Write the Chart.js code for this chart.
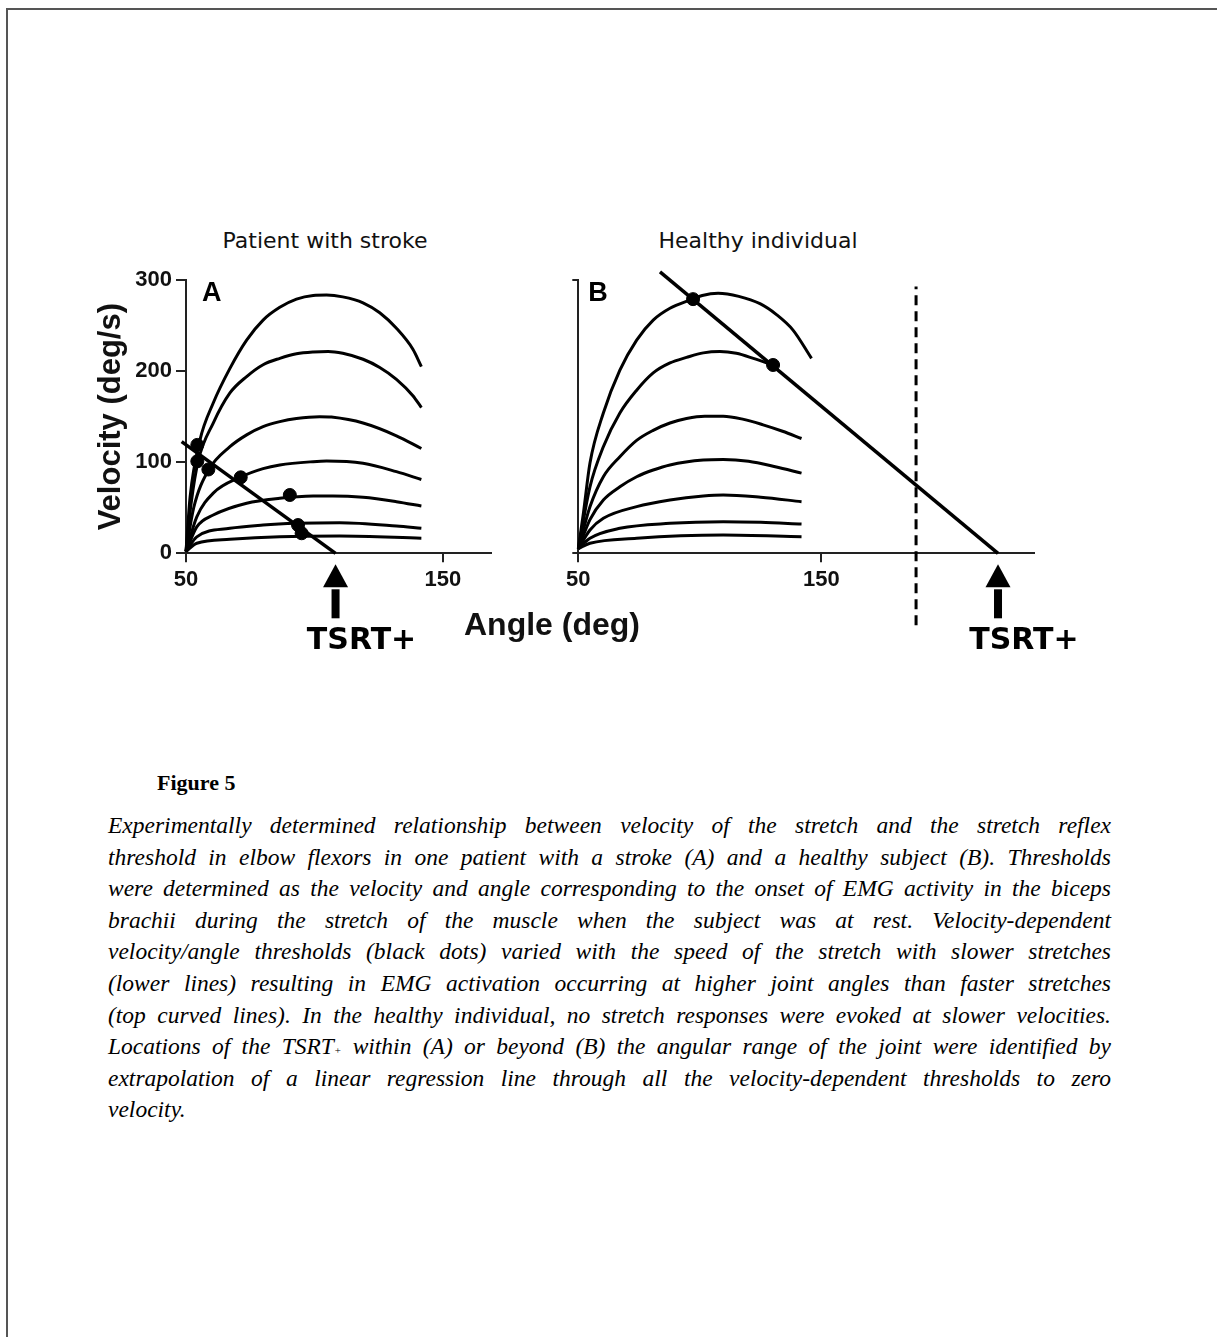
<!DOCTYPE html>
<html>
<head>
<meta charset="utf-8">
<script src="https://cdn.jsdelivr.net/npm/chart.js@4.4.0/dist/chart.umd.min.js"></script>
<style>
  body { margin: 0; background: #fff; width: 1217px; height: 1337px; position: relative; overflow: hidden; }
  #frame { position: absolute; left: 6px; top: 8px; width: 1300px; height: 1400px; border-top: 2px solid #555; border-left: 2px solid #555; }
  .panel { position: absolute; top: 200px; width: 560px; height: 500px; }
  .ptitle { position: absolute; font-family: "DejaVu Sans", sans-serif; font-size: 22px; color: #111; transform: translateX(-50%); white-space: nowrap; }
  #xtitle { position: absolute; left: 552px; top: 606px; transform: translateX(-50%); font-family: "Liberation Sans", Arial, sans-serif; font-weight: bold; font-size: 32px; color: #111; white-space: nowrap; }
  #figlabel { position: absolute; left: 157px; top: 770px; font-family: "Liberation Serif", serif; font-weight: bold; font-size: 22px; color: #000; }
  #caption { position: absolute; left: 108px; top: 810px; width: 1003px; font-family: "Liberation Serif", serif; font-style: italic; font-size: 23.5px; line-height: 31.6px; color: #000; }
  #caption .ln { text-align: justify; text-align-last: justify; height: 31.6px; }
  #caption .ln.last { text-align-last: left; }
  .plus { font-size: 11px; line-height: 0; vertical-align: 0; }
</style>
</head>
<body>
<div id="frame"></div>

<div class="ptitle" style="left:325px; top:228px;">Patient with stroke</div>
<div class="ptitle" style="left:758px; top:228px;">Healthy individual</div>

<div class="panel" style="left:0px;"><canvas id="chartA" width="560" height="500"></canvas></div>
<div class="panel" style="left:540px;"><canvas id="chartB" width="560" height="500"></canvas></div>

<div id="xtitle">Angle (deg)</div>

<div id="figlabel">Figure 5</div>
<div id="caption">
  <div class="ln">Experimentally determined relationship between velocity of the stretch and the stretch reflex</div>
  <div class="ln">threshold in elbow flexors in one patient with a stroke (A) and a healthy subject (B). Thresholds</div>
  <div class="ln">were determined as the velocity and angle corresponding to the onset of EMG activity in the biceps</div>
  <div class="ln">brachii during the stretch of the muscle when the subject was at rest. Velocity-dependent</div>
  <div class="ln">velocity/angle thresholds (black dots) varied with the speed of the stretch with slower stretches</div>
  <div class="ln">(lower lines) resulting in EMG activation occurring at higher joint angles than faster stretches</div>
  <div class="ln">(top curved lines). In the healthy individual, no stretch responses were evoked at slower velocities.</div>
  <div class="ln">Locations of the TSRT<span class="plus">+</span> within (A) or beyond (B) the angular range of the joint were identified by</div>
  <div class="ln">extrapolation of a linear regression line through all the velocity-dependent thresholds to zero</div>
  <div class="ln last">velocity.</div>
</div>

<script>
// stretch reflex threshold figure

// Tick values
const velocityTicks = [0, 100, 200, 300];
const angleTicks = [50, 150];

// Panel A - patient with stroke, velocity curves [angle, velocity]
const strokeCurve1 = [[50,2],[51.6,62],[55.4,124],[60.6,165],[67.1,203],[73.6,234],[80,256],[86.5,270],[93,279],[99.5,283],[104.7,283.5],[111,281.5],[118.9,275],[125.4,264],[131.9,247],[138.3,224],[141.6,205]];
const strokeCurve2 = [[50,2],[52,55],[54.8,102],[60.6,143],[67.1,176],[73.6,194],[80,207],[86.5,214],[93,219],[99.5,221],[105.3,221.5],[111,219.5],[118.9,213],[125.4,204],[131.9,191],[138.3,173],[141.6,160]];
const strokeCurve3 = [[50,2],[53,50],[58.7,91],[67.1,117],[73.6,130],[80,139],[86.5,144.5],[93,148],[102,150],[106.6,149.5],[118.9,143],[131.9,129],[141.6,115]];
const strokeCurve4 = [[50,2],[54.2,40],[60.6,66],[71,83.4],[80,93],[86.5,97],[99.5,100.6],[104.7,101.3],[118.9,98.8],[131.9,89.6],[141.6,81]];
const strokeCurve5 = [[50,2],[54.2,29],[60.6,42],[73.6,55],[86.5,60.4],[99.5,62.9],[107.2,63],[118.9,61.5],[131.9,56.7],[141.6,52]];
const strokeCurve6 = [[50,2],[54.2,18],[67.1,27.4],[80,31],[93,32.9],[109.8,33.6],[131.9,30],[141.6,27.4]];
const strokeCurve7 = [[50,2],[54.2,11],[67.1,15.4],[86.5,18.2],[109.8,19],[141.6,16.5]];
const strokeThresholds = [[54.4,119],[54.4,101],[58.7,92],[71.3,83.4],[90.4,64],[93.6,31],[95,22]];
const strokeRegression = [[48.3,122.5],[108.2,0]];
const strokeTSRT = 108.2;

// Panel B - healthy individual
const healthyCurve1 = [[50,5],[52.1,44],[54.8,99],[60.3,154],[67.1,201],[74,234],[80.8,256],[87.7,269],[95.9,278],[101,283],[107.5,285.4],[116,282],[124.7,274],[131.5,262],[138.3,245],[145.9,214]];
const healthyCurve2 = [[50,5],[54.8,73],[60.3,117],[67.1,154],[74,179],[80.8,198],[87.7,209],[94.5,215],[101.4,220],[108.2,221.5],[115,219.5],[122,214],[130.1,206.7]];
const healthyCurve3 = [[50,5],[54.8,51],[60.3,84],[67.1,106],[74,124],[80.8,135],[87.7,143],[94.5,148],[102,150.5],[109.6,150.5],[118,147],[126,141],[134,134],[141.8,126]];
const healthyCurve4 = [[50,5],[54.8,37],[60.3,58.5],[67.1,73],[74,84],[80.8,91.4],[87.7,97],[101.4,102.4],[109.6,103],[120,101],[131,95],[141.8,88]];
const healthyCurve5 = [[50,5],[54.8,25.6],[60.3,38.4],[74,51.2],[87.7,58.5],[101.4,62.9],[109.6,64],[125,61.5],[141.8,56.7]];
const healthyCurve6 = [[50,5],[54.8,16.5],[67.1,27.4],[87.7,32.9],[109.6,34.7],[125,34],[141.8,32.2]];
const healthyCurve7 = [[50,5],[54.8,11],[74,16.5],[109.6,20.1],[141.8,18.2]];
const healthyThresholds = [[97.2,279],[130.1,206.7]];
const healthyRegression = [[83.6,309],[222.6,0]];
const jointRangeLimit = [[188.9,-79],[188.9,293]];
const healthyTSRT = 222.6;

const toXY = pts => pts.map(p => ({ x: p[0], y: p[1] }));

function curveDataset(pts) {
    return {
        data: toXY(pts),
        borderColor: '#000',
        borderWidth: 3,
        pointRadius: 0,
        cubicInterpolationMode: 'monotone',
        fill: false,
        clip: false
    };
}

function lineDataset(pts, width, dash) {
    return {
        data: toXY(pts),
        borderColor: '#000',
        borderWidth: width,
        borderDash: dash || [],
        pointRadius: 0,
        tension: 0,
        fill: false,
        clip: false
    };
}

function dotDataset(pts) {
    return {
        data: toXY(pts),
        showLine: false,
        pointRadius: 6.5,
        pointBackgroundColor: '#000',
        pointBorderColor: '#000',
        clip: false
    };
}

// Draws the TSRT+ arrow under the x axis and the panel letter
const markPlugin = {
    id: 'marks',
    afterDraw(chart, args, opts) {
        const { ctx, scales: { x, y }, chartArea } = chart;
        const px = x.getPixelForValue(opts.tsrt);
        const py = y.getPixelForValue(0);
        ctx.save();
        ctx.fillStyle = '#000';
        ctx.beginPath();
        ctx.moveTo(px, py + 11);
        ctx.lineTo(px - 12.5, py + 34);
        ctx.lineTo(px + 12.5, py + 34);
        ctx.closePath();
        ctx.fill();
        ctx.fillRect(px - 4, py + 36, 8, 29);
        ctx.font = 'bold 30px "DejaVu Sans"';
        ctx.textAlign = 'center';
        ctx.textBaseline = 'middle';
        ctx.fillText('TSRT+', px + 26, py + 88);
        ctx.font = 'bold 27px "Liberation Sans"';
        ctx.textAlign = 'left';
        ctx.fillText(opts.letter, chartArea.left + opts.letterDx, chartArea.top + 14);
        ctx.restore();
    }
};

const tickFont = { family: 'Liberation Sans', weight: 'bold', size: 22 };

function makeChart(id, cfg) {
    const ctx = document.getElementById(id).getContext('2d');
    return new Chart(ctx, {
        type: 'line',
        data: { datasets: cfg.datasets },
        options: {
            responsive: false,
            animation: false,
            devicePixelRatio: 1,
            layout: { padding: { left: cfg.padLeft, right: cfg.padRight, top: 80, bottom: 106.7 } },
            plugins: {
                legend: { display: false },
                tooltip: { enabled: false },
                marks: { tsrt: cfg.tsrt, letter: cfg.letter, letterDx: cfg.letterDx }
            },
            scales: {
                x: {
                    type: 'linear',
                    min: 50,
                    max: cfg.xMax,
                    afterBuildTicks: s => { s.ticks = angleTicks.map(v => ({ value: v })); },
                    afterFit: s => { s.height = 40; },
                    grid: { drawOnChartArea: false, drawTicks: true, tickLength: 9, color: '#222', lineWidth: 2 },
                    border: { display: true, color: '#222', width: 2 },
                    ticks: { font: tickFont, color: '#111', padding: 4, maxRotation: 0 }
                },
                y: {
                    type: 'linear',
                    min: 0,
                    max: 300,
                    afterBuildTicks: s => { s.ticks = cfg.yTicks.map(v => ({ value: v })); },
                    afterFit: s => { s.width = cfg.yWidth; },
                    grid: { drawOnChartArea: false, drawTicks: true, tickLength: cfg.yTickLen, color: '#222', lineWidth: 2 },
                    border: { display: true, color: '#222', width: 2 },
                    ticks: { display: cfg.yLabels, font: tickFont, color: '#111', padding: 4 },
                    title: {
                        display: cfg.yLabels,
                        text: 'Velocity (deg/s)',
                        font: { family: 'Liberation Sans', weight: 'bold', size: 31 },
                        color: '#111',
                        padding: 0
                    }
                }
            }
        },
        plugins: [markPlugin]
    });
}

makeChart('chartA', {
    datasets: [strokeCurve1, strokeCurve2, strokeCurve3, strokeCurve4, strokeCurve5, strokeCurve6, strokeCurve7].map(curveDataset)
        .concat([lineDataset(strokeRegression, 3.5), dotDataset(strokeThresholds)]),
    padLeft: 93, yWidth: 93, padRight: 69, xMax: 168.7,
    yTicks: velocityTicks, yTickLen: 10, yLabels: true,
    tsrt: strokeTSRT, letter: 'A', letterDx: 16
});

makeChart('chartB', {
    datasets: [healthyCurve1, healthyCurve2, healthyCurve3, healthyCurve4, healthyCurve5, healthyCurve6, healthyCurve7].map(curveDataset)
        .concat([lineDataset(healthyRegression, 3.5), lineDataset(jointRangeLimit, 3, [10, 6]), dotDataset(healthyThresholds)]),
    padLeft: 30, yWidth: 8.3, padRight: 66, xMax: 237.4,
    yTicks: [0, 300], yTickLen: 6, yLabels: false,
    tsrt: healthyTSRT, letter: 'B', letterDx: 10
});
</script>
</body>
</html>
